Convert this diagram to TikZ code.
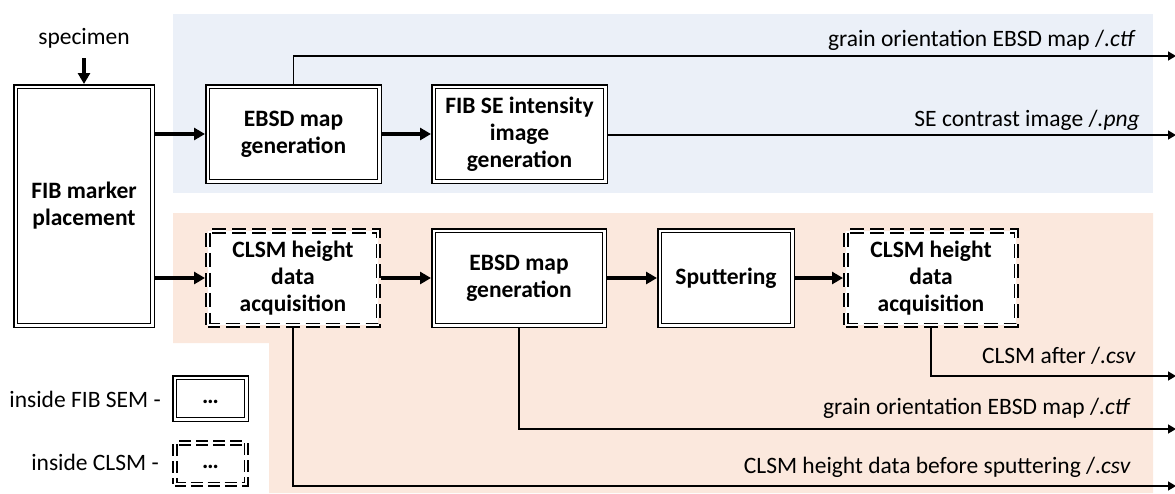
\documentclass[tikz,border=0pt]{standalone}
\usepackage{fontspec}
\setmainfont{Carlito}
\usetikzlibrary{arrows.meta}

\definecolor{fibbg}{HTML}{EBF0F8}
\definecolor{clsmbg}{HTML}{FBE8DD}

\tikzset{
  boxbase/.style={draw=black, fill=white, line width=1.5pt, double=white,
    double distance=2.4pt, inner sep=0pt, outer sep=2.7pt, align=center,
    font=\fontsize{23.5}{27}\selectfont\bfseries},
  fibbox/.style={boxbase},
  clsmbox/.style={boxbase, line width=1.7pt, double distance=2.2pt,
    dash pattern=on 14pt off 6pt, dash phase=2pt},
  flow/.style={line width=3.4pt, -{Triangle[length=11pt,width=12pt]}},
  output/.style={line width=1.5pt, -{Triangle[length=8pt,width=9pt]}},
  outlabel/.style={anchor=base east, inner sep=0pt, font=\fontsize{23.5}{27}\selectfont},
  plain/.style={inner sep=0pt, font=\fontsize{23.5}{27}\selectfont}
}

\begin{document}
\begin{tikzpicture}[x=1pt, y=-1pt]
\useasboundingbox (0,0) rectangle (1175,493);

% shaded work areas
\fill[fibbg] (173,14) rectangle (1153,193);
\fill[clsmbg] (173,213) -- (1153,213) -- (1153,493) -- (269,493)
  -- (269,343) -- (173,343) -- cycle;

% process steps
\node[fibbox, minimum width=136.6pt, minimum height=238.6pt] (fib) at (84,206) {FIB marker\\placement};
\node[fibbox, minimum width=171.6pt, minimum height=94.6pt] (ebsdA) at (293.5,134) {EBSD map\\generation};
\node[fibbox, minimum width=171.6pt, minimum height=94.6pt] (fibse) at (519.5,134) {FIB SE intensity\\image\\generation};
\node[clsmbox, minimum width=170.6pt, minimum height=94.6pt] (clsmA) at (293,278) {CLSM height\\data\\acquisition};
\node[fibbox, minimum width=170.6pt, minimum height=94.6pt] (ebsdB) at (519,278) {EBSD map\\generation};
\node[fibbox, minimum width=132.6pt, minimum height=94.6pt] (sput) at (726,278) {Sputtering};
\node[clsmbox, minimum width=170.6pt, minimum height=94.6pt] (clsmB) at (931,278) {CLSM height\\data\\acquisition};

% input
\node[plain, anchor=base] (spec) at (84,44) {specimen};
\coordinate (specin) at (84,58);
\draw[flow] (specin) -- (fib.north);

% process flow
\draw[flow] (fib.east |- ebsdA.west) -- (ebsdA.west);
\draw[flow] (ebsdA.east) -- (fibse.west);
\draw[flow] (fib.east |- clsmA.west) -- (clsmA.west);
\draw[flow] (clsmA.east) -- (ebsdB.west);
\draw[flow] (ebsdB.east) -- (sput.west);
\draw[flow] (sput.east) -- (clsmB.west);

% data outputs
\coordinate (o1) at (1176,56);
\coordinate (o2) at (1176,135);
\coordinate (o3) at (1176,376);
\coordinate (o4) at (1176,429);
\coordinate (o5) at (1176,486);
\draw[output] (ebsdA.north) |- (o1);
\draw[output] (fibse.east |- o2) -- (o2);
\draw[output] (clsmB.south) |- (o3);
\draw[output] (ebsdB.south) |- (o4);
\draw[output] (clsmA.south) |- (o5);

\node[outlabel] (l1) at (1136,46.5) {grain orientation EBSD map /\textit{.ctf}};
\node[outlabel] (l2) at (1140,126) {SE contrast image /\textit{.png}};
\node[outlabel] (l3) at (1136,363) {CLSM after /\textit{.csv}};
\node[outlabel] (l4) at (1131,414) {grain orientation EBSD map /\textit{.ctf}};
\node[outlabel] (l5) at (1131,473) {CLSM height data before sputtering /\textit{.csv}};

% legend
\node[fibbox, minimum width=71.6pt, minimum height=41.6pt] (legA) at (210.5,398.5) {\strut\ldots};
\node[clsmbox, dash pattern=on 12pt off 5pt, dash phase=1pt, minimum width=71.6pt, minimum height=41.6pt] (legB) at (210.5,463.5) {\strut\ldots};
\node[outlabel] (legAt) at (161,407) {inside FIB SEM -};
\node[outlabel] (legBt) at (159,470) {inside CLSM -};
\end{tikzpicture}
\end{document}
